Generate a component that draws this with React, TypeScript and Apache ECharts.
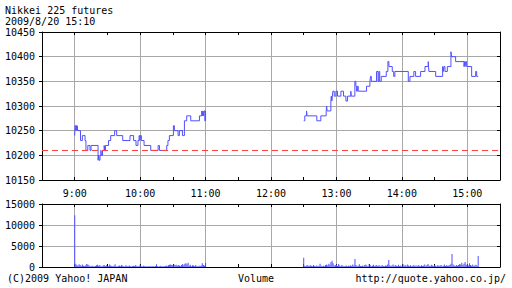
import { useEffect, useRef } from "react";
import * as echarts from "echarts";

const titleLine1 = "Nikkei 225 futures";
const titleLine2 = "2009/8/20 15:10";
const footerLeft = "(C)2009 Yahoo! JAPAN";
const footerCenter = "Volume";
const footerRight = "http://quote.yahoo.co.jp/";

const prevClose = 10210;
const openMinute = 540; // 9:00 in minutes since midnight
const pmOpenOffset = 210; // 12:30 as minutes after 9:00

// price change points, minutes after 9:00
const amTimes = [0, 0.3, 1, 1.5, 2, 2.3, 2.7, 5.3, 7, 9.5, 10.3, 12, 14, 15, 21.4, 22, 22.5, 23.2, 24, 24.5, 25.5, 27, 27.5, 28.2, 31, 33, 36.6, 38.5, 44, 50.7, 54, 56.2, 58, 59, 59.7, 60.2, 61.1, 63.6, 69.7, 76.5, 77.7, 84.4, 85.5, 86.8, 90.5, 91.4, 94.8, 96, 98.8, 100.6, 102.7, 106.4, 114.4, 116.5, 117, 117.5, 118, 118.6, 119.3, 120];
const amPrices = [10240, 10260, 10250, 10260, 10250, 10260, 10250, 10230, 10240, 10230, 10210, 10220, 10210, 10220, 10190, 10200, 10190, 10200, 10210, 10200, 10210, 10220, 10210, 10220, 10230, 10240, 10250, 10240, 10230, 10240, 10230, 10220, 10230, 10240, 10230, 10240, 10230, 10220, 10210, 10220, 10210, 10220, 10230, 10240, 10260, 10250, 10240, 10250, 10240, 10270, 10280, 10270, 10280, 10290, 10280, 10290, 10280, 10290, 10270, 10290];

const pmTimes = [210, 211, 212.6, 213, 222, 225.7, 230.6, 231, 231.5, 234.9, 235.3, 235.8, 236.3, 236.7, 238, 239.5, 241, 244.1, 246.5, 248.7, 250.2, 253.2, 253.6, 256.9, 257.8, 258.5, 259.2, 260, 267.6, 270.7, 271.3, 272, 276.8, 278.2, 279, 279.7, 281.1, 285.7, 287.2, 288.1, 291.2, 292.5, 293.6, 305.9, 307.4, 311, 312.6, 317.2, 321.2, 324.2, 324.8, 331, 337.4, 338, 338.5, 339.5, 341.7, 345, 345.6, 349.3, 357, 357.5, 358, 358.5, 359.4, 364, 367.7, 368.6, 370];
const pmPrices = [10270, 10280, 10290, 10280, 10270, 10280, 10290, 10300, 10290, 10310, 10320, 10310, 10320, 10330, 10320, 10330, 10320, 10330, 10320, 10310, 10320, 10330, 10320, 10350, 10340, 10330, 10340, 10330, 10340, 10350, 10360, 10350, 10370, 10350, 10370, 10350, 10360, 10370, 10390, 10380, 10370, 10360, 10370, 10350, 10360, 10370, 10360, 10370, 10380, 10390, 10370, 10360, 10380, 10370, 10380, 10370, 10380, 10410, 10400, 10390, 10380, 10390, 10380, 10390, 10380, 10360, 10370, 10360, 10360];

// per-minute volume, 9:00..11:00
const amVolume = [
  12300,
  800, 450, 300, 650, 500, 250, 600, 300, 200, 350,
  700, 600, 400, 250, 150, 300, 200, 100, 250, 400,
  550, 300, 450, 200, 150, 350, 500, 250, 400, 300,
  200, 600, 350, 250, 150, 300, 650, 200, 100, 250,
  350, 150, 450, 300, 200, 100, 400, 250, 150, 350,
  200, 100, 150, 300, 250, 500, 200, 150, 250, 600,
  150, 100, 300, 150, 100, 200, 100, 150, 250, 100,
  150, 200, 100, 250, 650, 200, 100, 150, 300, 100,
  200, 150, 250, 350, 200, 400, 550, 600, 500, 450,
  600, 400, 550, 300, 450, 350, 200, 500, 700, 400,
  800, 900, 650, 1000, 300, 550, 200, 400, 350, 250,
  450, 150, 200, 300, 250, 350, 900, 450, 300, 1000,
];
// per-minute volume, 12:30..15:10
const pmVolume = [
  2200,
  300, 200, 450, 350, 250, 400, 300, 150, 500, 250,
  200, 350, 150, 300, 800, 250, 150, 300, 200, 450,
  600, 350, 800, 550, 1200, 1500, 900, 300, 450, 600,
  250, 700, 350, 200, 450, 300, 150, 250, 350, 200,
  300, 150, 400, 250, 600, 350, 1900, 500, 200, 300,
  650, 250, 150, 350, 200, 450, 600, 300, 250, 700,
  400, 150, 300, 550, 200, 350, 500, 250, 400, 300,
  150, 450, 250, 200, 350, 300, 600, 1650, 400, 250,
  350, 600, 200, 450, 300, 150, 550, 250, 350, 200,
  700, 300, 450, 250, 600, 350, 200, 400, 150, 300,
  500, 250, 350, 200, 450, 300, 150, 400, 250, 350,
  600, 200, 450, 700, 300, 250, 550, 350, 200, 400,
  300, 150, 450, 250, 350, 500, 200, 300, 600, 250,
  400, 300, 350, 500, 750, 3100, 600, 350, 250, 450,
  300, 500, 700, 600, 1000, 450, 800, 1200, 500, 700,
  350, 900, 450, 300, 600, 250, 400, 550, 300, 2600,
];

const FONT = "'DejaVu Sans Mono', monospace";
const BLUE = "#5050ff";
const GRID = "#a8a8a8";

function fmtTime(v: number) {
  return v % 60 === 0 ? `${Math.floor(v / 60)}:00` : "";
}

function xAxisDef(gridIndex: number, position: string, withLabels: boolean, withSplit: boolean) {
  return {
    type: "value",
    gridIndex,
    position,
    min: 510,
    max: 930,
    interval: 30,
    axisLine: { show: true, onZero: false, lineStyle: { color: "#000", width: 1 } },
    axisTick: { show: true, inside: true, length: 3, lineStyle: { color: "#000" } },
    axisLabel: {
      show: withLabels,
      formatter: fmtTime,
      color: "#000",
      fontFamily: FONT,
      fontSize: 10,
      margin: 8,
    },
    splitLine: {
      show: withSplit,
      lineStyle: { color: ["rgba(0,0,0,0)", GRID], width: 1 },
    },
  };
}

function yAxisDef(gridIndex: number, position: string, min: number, max: number, interval: number, withLabels: boolean) {
  return {
    type: "value",
    gridIndex,
    position,
    min,
    max,
    interval,
    axisLine: { show: true, lineStyle: { color: "#000", width: 1 } },
    axisTick: { show: true, inside: !withLabels, length: 3, lineStyle: { color: "#000" } },
    axisLabel: {
      show: withLabels,
      formatter: (v: number) => String(v),
      color: "#000",
      fontFamily: FONT,
      fontSize: 10,
      margin: 7,
    },
    splitLine: { show: withLabels, lineStyle: { color: GRID, width: 1 } },
  };
}

export default function App() {
  const ref = useRef<HTMLDivElement>(null);
  useEffect(() => {
    if (!ref.current) return;
    const chart = echarts.init(ref.current, null, { renderer: "svg" });
    const amData = amTimes.map((t, i) => [openMinute + t, amPrices[i]]);
    const pmData = pmTimes.map((t, i) => [openMinute + t, pmPrices[i]]);
    const volData = amVolume
      .map((v, i) => [openMinute + i, v])
      .concat(pmVolume.map((v, i) => [openMinute + pmOpenOffset + i, v]));

    const textStyle = (text: string, x: number, y: number, align = "left") => ({
      type: "text",
      x,
      y,
      silent: true,
      style: {
        text,
        fill: "#000",
        font: `10px ${FONT}`,
        align,
        verticalAlign: "middle",
      },
    });

    chart.setOption({
      animation: false,
      backgroundColor: "#fff",
      grid: [
        { left: 42, right: 12, top: 32, height: 148 },
        { left: 42, right: 12, top: 204, height: 63 },
      ],
      xAxis: [
        xAxisDef(0, "bottom", true, true),
        xAxisDef(0, "top", false, false),
        xAxisDef(1, "bottom", false, true),
        xAxisDef(1, "top", false, false),
      ],
      yAxis: [
        yAxisDef(0, "left", 10150, 10450, 50, true),
        yAxisDef(0, "right", 10150, 10450, 50, false),
        yAxisDef(1, "left", 0, 15000, 5000, true),
        yAxisDef(1, "right", 0, 15000, 5000, false),
      ],
      graphic: [
        textStyle(titleLine1, 5, 10.3),
        textStyle(titleLine2, 5, 21),
        textStyle(footerLeft, 7, 278),
        textStyle(footerCenter, 256, 278, "center"),
        textStyle(footerRight, 506, 278, "right"),
      ],
      series: [
        {
          type: "line",
          xAxisIndex: 0,
          yAxisIndex: 0,
          step: "end",
          symbol: "none",
          data: amData,
          lineStyle: { color: BLUE, width: 1 },
          itemStyle: { color: BLUE },
          z: 3,
          markLine: {
            silent: true,
            symbol: "none",
            label: { show: false },
            lineStyle: { color: "#ff4040", type: [6, 4], width: 1 },
            data: [{ yAxis: prevClose }],
          },
        },
        {
          type: "line",
          xAxisIndex: 0,
          yAxisIndex: 0,
          step: "end",
          symbol: "none",
          data: pmData,
          lineStyle: { color: BLUE, width: 1 },
          itemStyle: { color: BLUE },
          z: 3,
        },
        {
          type: "bar",
          xAxisIndex: 2,
          yAxisIndex: 2,
          barWidth: 1,
          data: volData,
          itemStyle: { color: BLUE },
        },
      ],
    });
    return () => chart.dispose();
  }, []);
  return (
    <div
      ref={ref}
      style={{ position: "absolute", left: 0, top: 0, width: 512, height: 288, background: "#fff" }}
    />
  );
}
